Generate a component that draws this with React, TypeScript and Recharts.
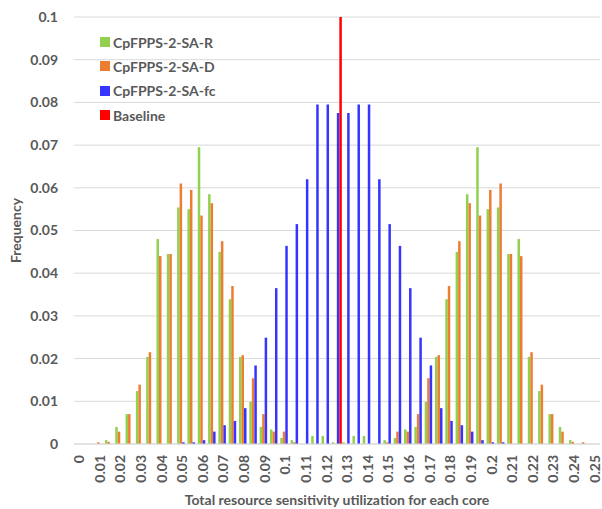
import React from 'react';
import { BarChart, Bar, XAxis, YAxis, CartesianGrid, Legend, Label } from 'recharts';

// utilization bins, 0.005 wide (only every 0.01 is labelled)
const categories = [
  '0', '0.005', '0.01', '0.015', '0.02', '0.025', '0.03', '0.035', '0.04', '0.045',
  '0.05', '0.055', '0.06', '0.065', '0.07', '0.075', '0.08', '0.085', '0.09', '0.095',
  '0.1', '0.105', '0.11', '0.115', '0.12', '0.125', '0.13', '0.135', '0.14', '0.145',
  '0.15', '0.155', '0.16', '0.165', '0.17', '0.175', '0.18', '0.185', '0.19', '0.195',
  '0.2', '0.205', '0.21', '0.215', '0.22', '0.225', '0.23', '0.235', '0.24', '0.245',
  '0.25',
];

const saR = [
  0, 0, 0, 0.0009, 0.004, 0.007, 0.0124, 0.0204, 0.048, 0.0445,
  0.0554, 0.055, 0.0695, 0.0585, 0.045, 0.0339, 0.0204, 0.0099, 0.004, 0.0034,
  0.0014, 0.0009, 0, 0.0019, 0.0019, 0.0004, 0.0004, 0.0019, 0.0019, 0,
  0.0009, 0.0014, 0.0034, 0.004, 0.0099, 0.0204, 0.0339, 0.045, 0.0585, 0.0695,
  0.055, 0.0554, 0.0445, 0.048, 0.0204, 0.0124, 0.007, 0.004, 0.0009, 0,
  0,
];

const saD = [
  0, 0, 0.0004, 0.0005, 0.0029, 0.007, 0.0139, 0.0215, 0.044, 0.0445,
  0.061, 0.0595, 0.0535, 0.0564, 0.0475, 0.037, 0.0208, 0.0154, 0.007, 0.0029,
  0.0029, 0.0004, 0, 0, 0, 0, 0, 0, 0, 0,
  0.0004, 0.0029, 0.0029, 0.007, 0.0154, 0.0208, 0.037, 0.0475, 0.0564, 0.0535,
  0.0595, 0.061, 0.0445, 0.044, 0.0215, 0.0139, 0.007, 0.0029, 0.0005, 0.0004,
  0,
];

const saFc = [
  0, 0, 0, 0, 0, 0, 0, 0, 0, 0,
  0.0004, 0.0004, 0.0009, 0.0029, 0.0044, 0.0054, 0.0084, 0.0184, 0.0249, 0.0365,
  0.0464, 0.0515, 0.062, 0.0795, 0.0795, 0.0775, 0.0775, 0.0795, 0.0795, 0.062,
  0.0515, 0.0464, 0.0365, 0.0249, 0.0184, 0.0084, 0.0054, 0.0044, 0.0029, 0.0009,
  0.0004, 0.0004, 0, 0, 0, 0, 0, 0, 0, 0,
  0,
];

const baseline = [
  0, 0, 0, 0, 0, 0, 0, 0, 0, 0,
  0, 0, 0, 0, 0, 0, 0, 0, 0, 0,
  0, 0, 0, 0, 0, 0.1, 0, 0, 0, 0,
  0, 0, 0, 0, 0, 0, 0, 0, 0, 0,
  0, 0, 0, 0, 0, 0, 0, 0, 0, 0,
  0,
];

const yTicks = [0, 0.01, 0.02, 0.03, 0.04, 0.05, 0.06, 0.07, 0.08, 0.09, 0.1];
const yTickLabels = ['0', '0.01', '0.02', '0.03', '0.04', '0.05', '0.06', '0.07', '0.08', '0.09', '0.1'];

const series = [
  { key: 'r', name: 'CpFPPS-2-SA-R', color: '#92d050' },
  { key: 'd', name: 'CpFPPS-2-SA-D', color: '#ed7d31' },
  { key: 'fc', name: 'CpFPPS-2-SA-fc', color: '#3535ff' },
  { key: 'base', name: 'Baseline', color: '#ff0000' },
];

const data = categories.map((c, i) => ({
  bin: c,
  r: saR[i],
  d: saD[i],
  fc: saFc[i],
  base: baseline[i],
}));

const FONT = 'Lato, "Open Sans", sans-serif';
const TEXT = '#595959';

const XTick = (props: any) => {
  const { x, y, payload, index } = props;
  if (index % 2 === 1) return <g />;
  return (
    <g transform={`translate(${x},${y})`}>
      <text
        transform="rotate(-90)"
        x={0}
        y={0}
        dy="0.35em"
        textAnchor="end"
        fill={TEXT}
        fontSize={14}
        fontWeight={700}
        fontFamily={FONT}
      >
        {payload.value}
      </text>
    </g>
  );
};

const LegendBox = () => (
  <div style={{ fontFamily: FONT, fontSize: 14, fontWeight: 700, color: TEXT }}>
    {series.map(s => (
      <div key={s.key} style={{ display: 'flex', alignItems: 'center', height: 24.3 }}>
        <span style={{ width: 10, height: 10, background: s.color, marginRight: 3 }} />
        <span>{s.name}</span>
      </div>
    ))}
  </div>
);

export default function App() {
  return (
    <div style={{ position: 'fixed', left: 0, top: 0, width: 602, height: 509, background: '#fff' }}>
      <BarChart
        width={602}
        height={509}
        data={data}
        margin={{ top: 17, right: 2, left: 0, bottom: 0 }}
        barCategoryGap={0}
        barGap={0}
        barSize={2.5}
      >
        <CartesianGrid vertical={false} stroke="#d9d9d9" strokeWidth={1} />
        <XAxis
          dataKey="bin"
          interval={0}
          height={65}
          tick={<XTick />}
          tickLine={false}
          tickSize={11}
          tickMargin={0}
          axisLine={{ stroke: '#d9d9d9' }}
        >
          <Label
            content={({ viewBox }: any) => (
              <text
                x={viewBox.x + viewBox.width / 2}
                y={viewBox.y + 61}
                textAnchor="middle"
                fill={TEXT}
                fontSize={14}
                fontWeight={700}
                fontFamily={FONT}
              >
                Total resource sensitivity utilization for each core
              </text>
            )}
          />
        </XAxis>
        <YAxis
          width={74}
          domain={[0, 0.1]}
          ticks={yTicks}
          tickFormatter={(v: number) => yTickLabels[yTicks.indexOf(v)]}
          axisLine={false}
          tickLine={false}
          tickSize={6}
          tickMargin={10}
          tick={{ fill: TEXT, fontSize: 14, fontWeight: 700, fontFamily: FONT }}
        >
          <Label
            content={({ viewBox }: any) => (
              <text
                transform={`translate(${viewBox.x + 16},${viewBox.y + viewBox.height / 2}) rotate(-90)`}
                textAnchor="middle"
                dy="0.35em"
                fill={TEXT}
                fontSize={14}
                fontWeight={700}
                fontFamily={FONT}
              >
                Frequency
              </text>
            )}
          />
        </YAxis>
        {/* centred + middle so the legend takes no room from the plot */}
        <Legend
          content={<LegendBox />}
          layout="vertical"
          verticalAlign="middle"
          align="center"
          wrapperStyle={{ left: 100, top: 30, width: 'auto', height: 'auto' }}
        />
        {series.map(s => (
          <Bar key={s.key} dataKey={s.key} name={s.name} fill={s.color} isAnimationActive={false} />
        ))}
      </BarChart>
    </div>
  );
}
